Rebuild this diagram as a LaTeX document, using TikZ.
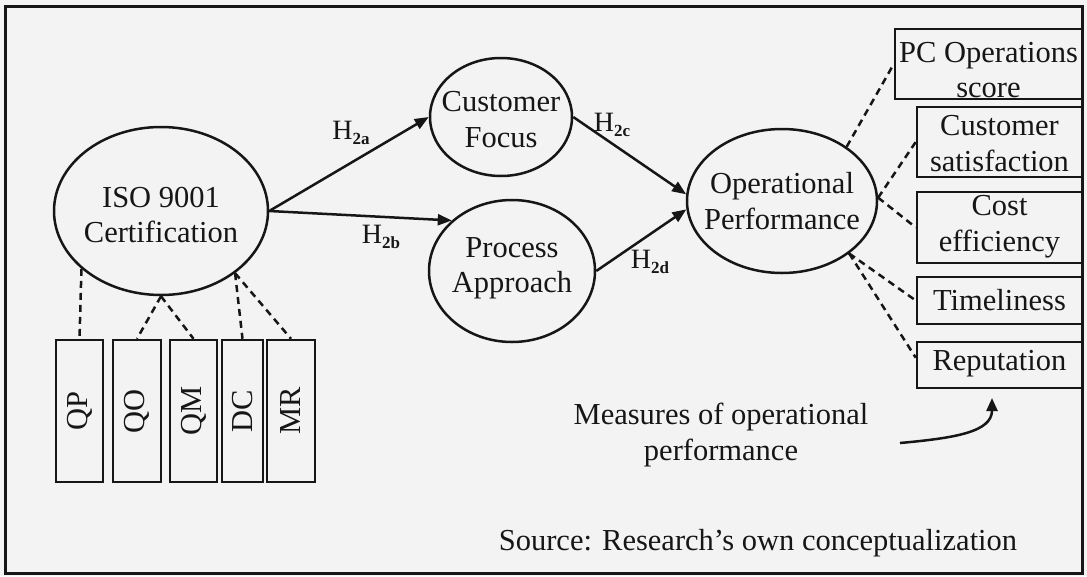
\documentclass[tikz,border=0pt]{standalone}
\usepackage{fontspec}
\setmainfont{Liberation Serif}
\usetikzlibrary{shapes.geometric,arrows.meta,calc}
\definecolor{ink}{HTML}{161616}
\definecolor{paper}{HTML}{F3F3F3}
\begin{document}
\begin{tikzpicture}[x=1pt,y=-1pt,
  every node/.style={font=\fontsize{30.5}{35.5}\selectfont, text=ink},
  bubble/.style={draw=ink, line width=2.5pt, ellipse, inner sep=0pt},
  lbl/.style={align=center, inner sep=0pt},
  mbox/.style={draw=ink, line width=2.5pt, rectangle, inner sep=0pt},
  link/.style={draw=ink, line width=2.5pt, -{Triangle[length=14pt,width=11pt]}},
  dashlink/.style={draw=ink, line width=2.5pt, dash pattern=on 7pt off 5pt},
  hlab/.style={inner sep=0pt, font=\fontsize{28}{30}\selectfont}]
\fill[paper] (0,0) rectangle (1087,576);
\useasboundingbox (0,0) rectangle (1087,576);
\draw[ink, line width=3pt] (5,6) rectangle (1082,573);

% ellipses
\node[bubble, minimum width=214pt, minimum height=168pt,
  label={[lbl,yshift=-4pt]center:{ISO 9001\\Certification}}] (iso) at (161,211) {};
\node[bubble, minimum width=142pt, minimum height=118pt,
  label={[lbl,yshift=-2.5pt]center:{Customer\\Focus}}] (cf) at (501,117) {};
\node[bubble, minimum width=166pt, minimum height=142pt,
  label={[lbl,yshift=2.5pt]center:{Process\\Approach}}] (pa) at (512,271) {};
\node[bubble, minimum width=190pt, minimum height=144pt,
  label={[lbl]center:{Operational\\Performance}}] (op) at (782,201) {};

% right measure boxes
\node[mbox, minimum width=187pt, minimum height=70pt,
  label={[lbl,yshift=-6pt]center:{PC Operations\\score}}] (pc) at (988.5,64) {};
\node[mbox, minimum width=165pt, minimum height=70pt,
  label={[lbl,yshift=-1.5pt]center:{Customer\\satisfaction}}] (cs) at (999.5,142) {};
\node[mbox, minimum width=165pt, minimum height=71pt,
  label={[lbl,yshift=1pt]center:{Cost\\efficiency}}] (cost) at (999.5,227.5) {};
\node[mbox, minimum width=165pt, minimum height=47pt,
  label={[lbl]center:{Timeliness}}] (tl) at (999.5,300.5) {};
\node[mbox, minimum width=165pt, minimum height=46pt,
  label={[lbl,yshift=1pt]center:{Reputation}}] (rep) at (999.5,365) {};

% small vertical boxes
\node[mbox, minimum width=47pt, minimum height=142pt,
  label={[lbl,rotate=90]center:{QP}}] (qp) at (79.5,411) {};
\node[mbox, minimum width=48pt, minimum height=142pt,
  label={[lbl,rotate=90]center:{QO}}] (qo) at (137,411) {};
\node[mbox, minimum width=47pt, minimum height=142pt,
  label={[lbl,rotate=90]center:{QM}}] (qm) at (193.5,411) {};
\node[mbox, minimum width=41pt, minimum height=142pt,
  label={[lbl,rotate=90]center:{DC}}] (dc) at (242.5,411) {};
\node[mbox, minimum width=48pt, minimum height=142pt,
  label={[lbl,rotate=90]center:{MR}}] (mr) at (291,411) {};

% hypothesis arrows
\draw[link] (iso.east) -- (cf.west);
\draw[link] (iso.east) -- (pa.140);
\draw[link] (cf.east) -- (op.176);
\draw[link] (pa.east) -- (op.185);

\node[hlab] (h2a) at (351,133) {H\raisebox{-5pt}{\fontsize{17}{17}\selectfont\bfseries 2a}};
\node[hlab] (h2b) at (381,237) {H\raisebox{-5pt}{\fontsize{17}{17}\selectfont\bfseries 2b}};
\node[hlab] (h2c) at (612,125) {H\raisebox{-5pt}{\fontsize{17}{17}\selectfont\bfseries 2c}};
\node[hlab] (h2d) at (650,262) {H\raisebox{-5pt}{\fontsize{17}{17}\selectfont\bfseries 2d}};

% dashed links from ISO
\draw[dashlink] (iso.216) -- (qp.north);
\draw[dashlink] (iso.south) -- (qo.north);
\draw[dashlink] (iso.south) -- (qm.north);
\draw[dashlink] (iso.320) -- (dc.north);
\draw[dashlink] (iso.320) -- (mr.north);

% dashed links from operational performance
\draw[dashlink] (op.40) -- (pc.west);
\draw[dashlink] (op.2) -- (cs.west);
\draw[dashlink] (op.2) -- (cost.west);
\draw[dashlink] (op.322) -- (tl.west);
\draw[dashlink] (op.322) -- ($(rep.north west)!0.35!(rep.south west)$);

% measures note
\node[lbl] (meas) at (721,435) {Measures of operational\\performance};
\coordinate (cstart) at (900,443);
\coordinate (cend) at (992,398);
\draw[ink, line width=2.5pt, -{Triangle[length=13pt,width=11pt]}]
  (cstart) .. controls (955,438) and (992,432) .. (cend);

\node[lbl] (src) at (758,543) {Source: Research's own conceptualization};
\end{tikzpicture}
\end{document}
